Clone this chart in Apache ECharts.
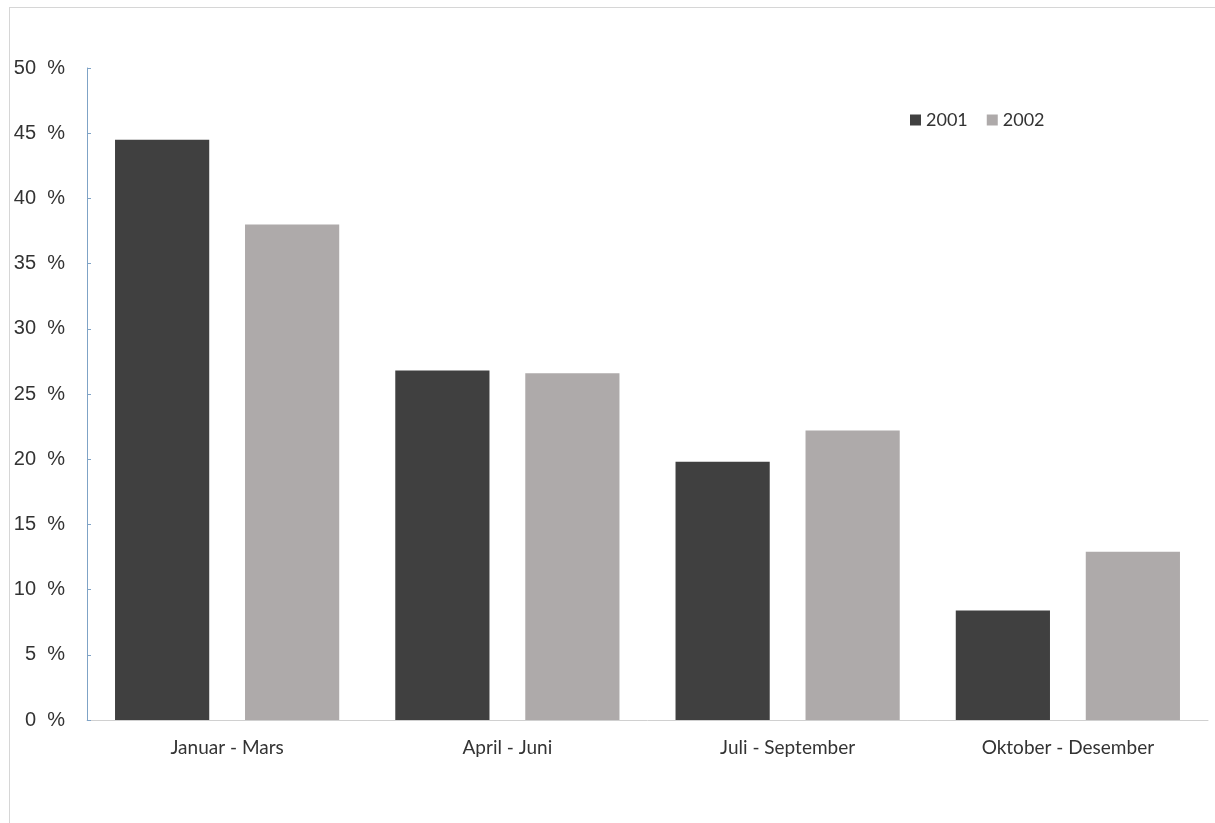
<!DOCTYPE html>
<html>
<head>
<meta charset="utf-8">
<script src="https://cdn.jsdelivr.net/npm/echarts@6/dist/echarts.min.js"></script>
<style>
  html, body { margin: 0; padding: 0; background: #fff; }
  #frame { position: absolute; left: 9px; top: 7px; width: 1300px; height: 900px; border: 1px solid #d6d6d6; }
  #chart { position: absolute; left: 0; top: 0; width: 1215px; height: 823px; }
</style>
</head>
<body>
<div id="frame"></div>
<div id="chart"></div>
<script>
  // kvartal og andel per år
  const quarters = ['Januar - Mars', 'April - Juni', 'Juli - September', 'Oktober - Desember']
  const values2001 = [44.5, 26.8, 19.8, 8.4]
  const values2002 = [38.0, 26.6, 22.2, 12.9]

  let myChart = echarts.init(document.getElementById('chart'))
  myChart.setOption({
    animation: false,
    backgroundColor: 'transparent',
    legend: {
      left: 905,
      top: 106,
      itemWidth: 11,
      itemHeight: 11,
      itemGap: 19,
      icon: 'rect',
      textStyle: { fontFamily: 'Lato', fontSize: 18, color: '#333' },
      data: ['2001', '2002']
    },
    grid: {
      left: 87,
      right: 7,
      top: 68,
      bottom: 103
    },
    xAxis: {
      type: 'category',
      data: quarters,
      axisLine: { lineStyle: { color: '#d0d0d0', width: 1 } },
      axisTick: { show: false },
      axisLabel: { fontFamily: 'Lato', fontSize: 19, color: '#333', margin: 18 }
    },
    yAxis: {
      type: 'value',
      min: 0,
      max: 50,
      interval: 5,
      axisLine: { show: true, lineStyle: { color: '#7fa3c6', width: 1 } },
      axisTick: { show: true, inside: true, length: 4, lineStyle: { color: '#7fa3c6' } },
      splitLine: { show: false },
      axisLabel: {
        fontFamily: 'Liberation Sans',
        fontSize: 20,
        color: '#333',
        margin: 22,
        formatter: v => v + '  %'
      }
    },
    series: [
      {
        name: '2001',
        type: 'bar',
        data: values2001,
        barGap: '38%',
        barCategoryGap: '20%',
        itemStyle: { color: '#404040' }
      },
      {
        name: '2002',
        type: 'bar',
        data: values2002,
        itemStyle: { color: '#aeaaaa' }
      }
    ]
  })
</script>
</body>
</html>
